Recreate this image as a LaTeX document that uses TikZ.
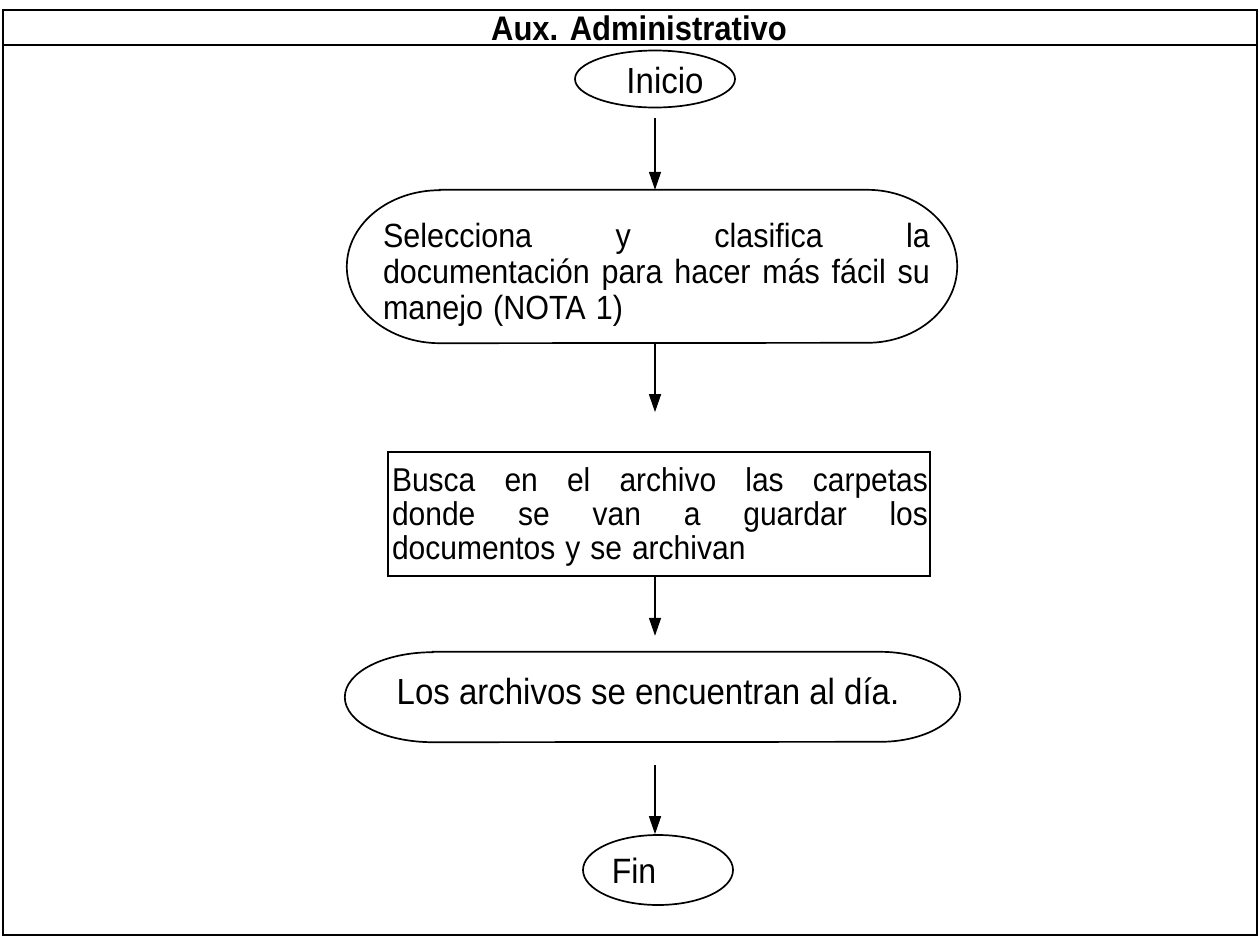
\documentclass[tikz,border=0pt]{standalone}
\usepackage{fontspec}
\setmainfont{Liberation Sans}
\usetikzlibrary{arrows.meta,shapes.geometric,calc}
\begin{document}
\begin{tikzpicture}[x=1pt,y=-1pt,
  thick line/.style={line width=1.7pt},
  arr/.style={line width=1.5pt,-{Triangle[length=18pt,width=12pt]}},
  tall/.style={yscale=1.1, transform shape},
  txt/.style={tall, font=\fontsize{30.5}{32.7}\selectfont, inner sep=0pt},
  bigtxt/.style={tall, font=\fontsize{33}{36}\selectfont, inner sep=0pt},
  blank/.style={inner sep=0pt}]
\useasboundingbox (0,0) rectangle (1259,940);
\fill[white] (0,0) rectangle (1259,940);
% frame
\draw[thick line] (3,10) rectangle (1257,935);
\draw[thick line] (3,45) -- (1257,45);
\node[tall, font=\fontsize{31}{34}\selectfont\bfseries, inner sep=0pt] (title) at (639,28) {Aux. Administrativo};
% Inicio
\node[ellipse, draw, thick line, minimum width=160pt, minimum height=57pt, inner sep=0pt] (inicio) at (655,79) {};
\node[bigtxt] (iniciotext) at (665,81) {Inicio};
% Selecciona
\node[blank, minimum width=610pt, minimum height=153pt] (sel) at (652,266.5) {};
\draw[thick line] ($(sel.north west)+(93,0)$) -- ($(sel.north east)+(-90,0)$)
  arc[start angle=-90, end angle=90, x radius=90, y radius=76.5]
  -- ($(sel.south west)+(93,0)$)
  arc[start angle=90, end angle=270, x radius=93, y radius=76.5] -- cycle;
\node[txt, text width=547pt, align=left] (seltext) at (656.5,275)
  {Selecciona\hfill y\hfill clasifica\hfill la\\
   documentación\hfill para\hfill hacer\hfill más\hfill fácil\hfill su\\
   manejo (NOTA 1)};
% Busca
\node[draw, thick line, text width=536pt, inner xsep=3pt, inner ysep=0pt,
      minimum height=124pt] (busca) at (659,514) {};
\node[tall, font=\fontsize{30}{31}\selectfont, inner sep=0pt, text width=536pt, align=left] (buscatext) at (660,517)
  {Busca\hfill en\hfill el\hfill archivo\hfill las\hfill carpetas\\
   donde\hfill se\hfill van\hfill a\hfill guardar\hfill los\\
   documentos y se archivan};
% Los archivos
\node[blank, minimum width=615pt, minimum height=90pt] (los) at (652.5,697) {};
\draw[thick line] ($(los.north west)+(88,0)$) -- ($(los.north east)+(-80,0)$)
  arc[start angle=-90, end angle=90, x radius=80, y radius=45]
  -- ($(los.south west)+(88,0)$)
  arc[start angle=90, end angle=270, x radius=88, y radius=45] -- cycle;
\node[bigtxt] (lostext) at (648,691) {Los archivos se encuentran al día.};
% Fin
\node[ellipse, draw, thick line, minimum width=150pt, minimum height=70pt, inner sep=0pt] (fin) at (658,870) {};
\node[tall, font=\fontsize{32}{36}\selectfont, inner sep=0pt] (fintext) at (634,871) {Fin};
% arrows
\coordinate (col) at (655,0);
\draw[arr] ($(col |- inicio.south)+(0,10)$) -- (col |- sel.north);
\draw[arr] (col |- sel.south) -- ($(col |- busca.north)+(0,-39)$);
\draw[arr] (col |- busca.south) -- ($(col |- los.north)+(0,-16)$);
\draw[arr] ($(col |- los.south)+(0,23)$) -- (col |- fin.north);
\end{tikzpicture}
\end{document}
